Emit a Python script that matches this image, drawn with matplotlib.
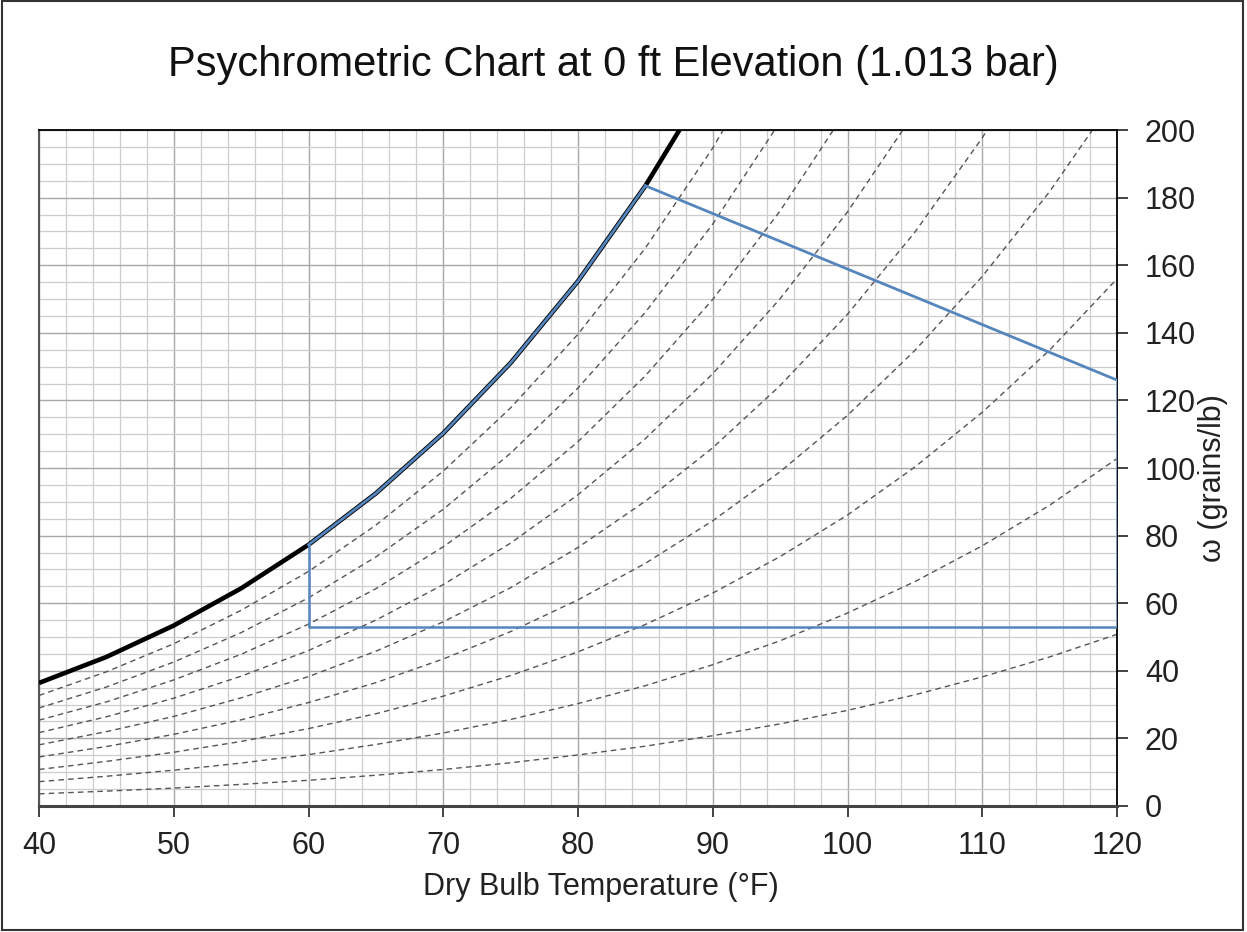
#!/usr/bin/env python3
# -*- coding: utf-8 -*-
"""
Psychrometric chart at sea level (1.013 bar) with a shaded design zone.
"""

import matplotlib
matplotlib.use("Agg")
import matplotlib.pyplot as plt
from matplotlib.patches import Rectangle
from matplotlib.ticker import MultipleLocator

#*********************************************************************************
# data (grains of moisture per lb dry air)
temps = [40, 45, 50, 55, 60, 65, 70, 75, 80, 85, 90, 95, 100, 105, 110, 115, 120]

sat = [36.4, 44.1, 53.4, 64.4, 77.3, 92.5, 110.3, 131.1, 155.3, 183.5, 216.2]

rh10 = [3.6, 4.4, 5.3, 6.4, 7.6, 9.1, 10.8, 12.8, 15.1, 17.7, 20.8, 24.3, 28.3, 32.9, 38.2, 44.1, 50.8]
rh20 = [7.2, 8.8, 10.6, 12.7, 15.2, 18.2, 21.6, 25.6, 30.3, 35.6, 41.8, 48.9, 57.1, 66.4, 77.0, 89.0, 102.8]
rh30 = [10.8, 13.2, 15.9, 19.1, 22.9, 27.3, 32.5, 38.6, 45.6, 53.7, 63.0, 73.8, 86.1, 100.3, 116.5, 134.9, 156.0]
rh40 = [14.5, 17.6, 21.2, 25.5, 30.6, 36.5, 43.5, 51.6, 61.0, 71.8, 84.4, 98.9, 115.6, 134.8, 156.7, 181.8, 210.5]
rh50 = [18.1, 22.0, 26.5, 32.0, 38.3, 45.8, 54.5, 64.6, 76.5, 90.2, 106.0, 124.4, 145.5, 169.8, 197.7, 229.6]
rh60 = [21.7, 26.4, 31.9, 38.4, 46.0, 55.0, 65.5, 77.8, 92.1, 108.7, 127.9, 150.1, 175.8, 205.3]
rh70 = [25.4, 30.8, 37.3, 44.9, 53.8, 64.3, 76.7, 91.0, 107.8, 127.3, 149.9, 176.1, 206.4]
rh80 = [29.0, 35.2, 42.6, 51.3, 61.6, 73.7, 87.8, 104.4, 123.7, 146.1, 172.2, 202.5]
rh90 = [32.7, 39.7, 48.0, 57.9, 69.4, 83.1, 99.1, 117.8, 139.6, 165.1, 194.7, 229.1]
rh_curves = [rh10, rh20, rh30, rh40, rh50, rh60, rh70, rh80, rh90]

# design zone: saturation edge from 60 to 85 F, then sloped top, right side and floor
zone_edge_T = [60, 65, 70, 75, 80, 85]
zone_edge_w = [77.3, 92.5, 110.3, 131.1, 155.3, 183.5]
zone_top_T = [85, 120]
zone_top_w = [183.5, 126.0]
zone_right_T = [120, 120]
zone_right_w = [126.0, 53.0]
zone_floor_T = [120, 60, 60]
zone_floor_w = [53.0, 53.0, 77.3]

#*********************************************************************************
plt.rcParams['font.family'] = ['Liberation Sans', 'DejaVu Sans']

fig = plt.figure(figsize=(12.47, 9.32), dpi=100)
ax = fig.add_axes([0.0313, 0.1352, 0.8645, 0.7253])

# grid
ax.xaxis.set_major_locator(MultipleLocator(10))
ax.xaxis.set_minor_locator(MultipleLocator(2))
ax.yaxis.set_major_locator(MultipleLocator(20))
ax.yaxis.set_minor_locator(MultipleLocator(5))
ax.grid(which='major', color='#a8a8a8', lw=1.0, zorder=0)
ax.grid(which='minor', color='#cdcdcd', lw=0.9, zorder=0)
ax.set_axisbelow(True)

# relative humidity lines
for c in rh_curves:
   ax.plot(temps[:len(c)], c, color='#555555', lw=1.0, ls=(0, (4, 3)), zorder=2)

# saturation line
ax.plot(temps[:len(sat)], sat, color='black', lw=3.3, zorder=3, solid_capstyle='butt')

# design zone
blue = '#5585bd'
ax.plot(zone_edge_T, zone_edge_w, color=blue, lw=2.0, zorder=4)
ax.plot(zone_top_T, zone_top_w, color=blue, lw=2.0, zorder=4)
ax.plot(zone_right_T, zone_right_w, color='#8fb4dc', lw=1.2, zorder=4)
ax.plot(zone_floor_T, zone_floor_w, color=blue, lw=1.8, zorder=4)

ax.set_xlim(40, 120)
ax.set_ylim(0, 200)

# axes cosmetics
ax.yaxis.tick_right()
ax.yaxis.set_label_position('right')
ax.tick_params(axis='both', which='minor', length=0)
ax.tick_params(axis='x', which='major', direction='out', length=8, width=1.2, pad=10,
               labelsize=22, colors='#222222', bottom=True, top=False)
ax.tick_params(axis='y', which='major', direction='out', length=8, width=1.2, pad=12,
               labelsize=22, colors='#222222', right=True, left=False)
for s in ['top', 'right']:
   ax.spines[s].set_color('black')
   ax.spines[s].set_linewidth(1.3)
ax.spines['left'].set_color('#555555')
ax.spines['left'].set_linewidth(1.5)
ax.spines['bottom'].set_color('#444444')
ax.spines['bottom'].set_linewidth(2.2)

ax.set_xlabel('Dry Bulb Temperature (°F)', fontsize=22, color='#222222')
ax.xaxis.set_label_coords(0.521, -0.098)
ax.set_ylabel('ω (grains/lb)', fontsize=22, color='#222222', rotation=90)
ax.yaxis.set_label_coords(1.075, 0.485)

fig.text(0.492, 0.930, 'Psychrometric Chart at 0 ft Elevation (1.013 bar)',
         ha='center', va='center', fontsize=30, color='#111111')

# outer frame
fig.patches.append(Rectangle((0.0016, 0.0021), 0.9952, 0.9965, transform=fig.transFigure,
                             fill=False, lw=1.5, ec='#333333'))

plt.savefig('out.png', dpi=100)
plt.close()
